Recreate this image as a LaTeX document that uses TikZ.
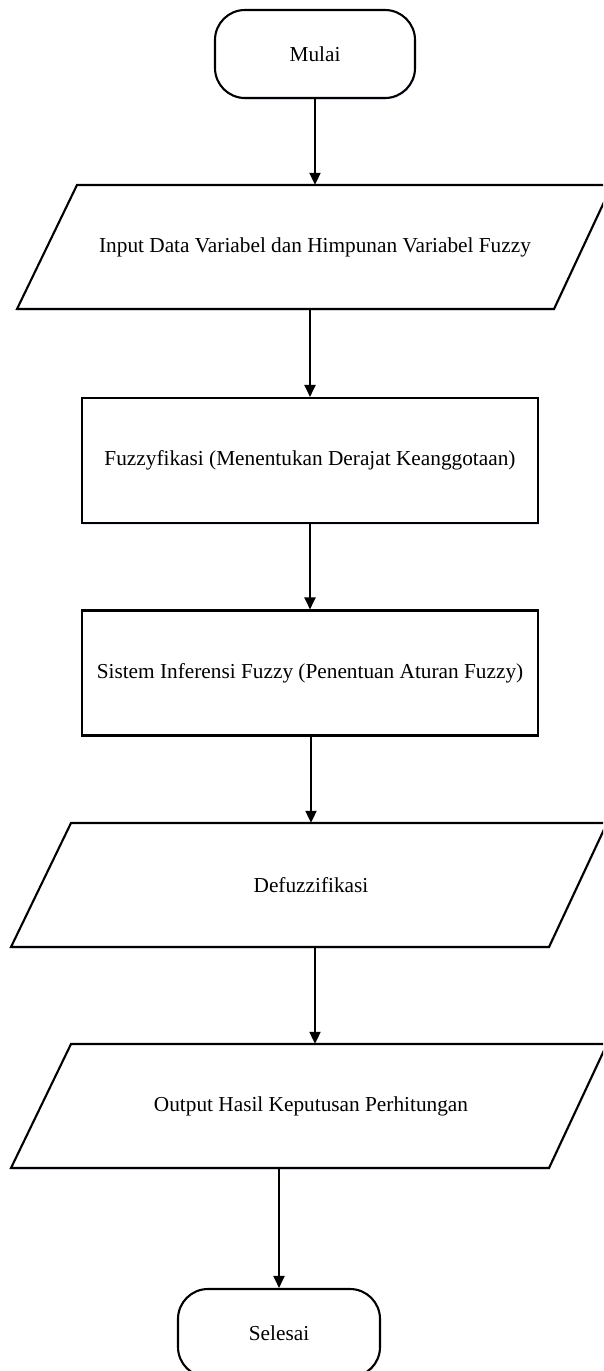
\documentclass[tikz,border=0pt]{standalone}
\usepackage{fontspec}
\setmainfont{Liberation Serif}
\usetikzlibrary{arrows.meta,shadows}
\begin{document}
\begin{tikzpicture}[x=1pt,y=-1pt,
  shd/.style={drop shadow={opacity=0.35, fill=blue!25, shadow xshift=1pt, shadow yshift=-1.5pt}},
  txt/.style={font=\fontsize{21.3}{25}\selectfont},
  term/.style={txt, draw, line width=2.1pt, rounded corners=30pt, fill=white, shd, minimum width=200pt, minimum height=88pt, inner sep=0pt},
  proc/.style={txt, draw, line width=2.1pt, fill=white, shd, minimum width=456pt, minimum height=125pt, inner sep=0pt},
  io/.style={txt, minimum width=10pt, minimum height=124pt, inner sep=0pt},
  para/.style={line width=2.1pt, line join=miter, fill=white, shd},
  arr/.style={line width=2pt, -{Triangle[length=12pt,width=11pt]}}]
\useasboundingbox (0,0) rectangle (603,1371);
\clip (0,0) rectangle (603,1371);
\fill[white] (0,0) rectangle (603,1371);

% shapes
\node[term] (mulai) at (315,54) {Mulai};

\draw[para] (77,185) -- (612,185) -- (554,309) -- (17,309) -- cycle;
\node[io] (p1) at (315,247) {Input Data Variabel dan Himpunan Variabel Fuzzy};

\node[proc] (r1) at (310,460.5) {Fuzzyfikasi (Menentukan Derajat Keanggotaan)};
\node[proc] (r2) at (310,673) {Sistem Inferensi Fuzzy (Penentuan Aturan Fuzzy)};

\draw[para] (71,823) -- (607,823) -- (549,947) -- (11,947) -- cycle;
\node[io] (p3) at (311,885) {Defuzzifikasi};

\draw[para] (71,1044) -- (607,1044) -- (549,1168) -- (11,1168) -- cycle;
\node[io] (p4) at (311,1106) {Output Hasil Keputusan Perhitungan};

\node[term, minimum width=202pt] (selesai) at (279,1333) {Selesai};

% connectors
\draw[arr] (mulai.south) -- (mulai.south |- p1.north);
\draw[arr] (r1.north |- p1.south) -- (r1.north);
\draw[arr] (r1.south) -- (r2.north);
\draw[arr] (p3.north |- r2.south) -- (p3.north);
\draw[arr] ([xshift=4pt]p3.south) -- ([xshift=4pt]p3.south |- p4.north);
\draw[arr] (selesai.north |- p4.south) -- (selesai.north);
\end{tikzpicture}
\end{document}
